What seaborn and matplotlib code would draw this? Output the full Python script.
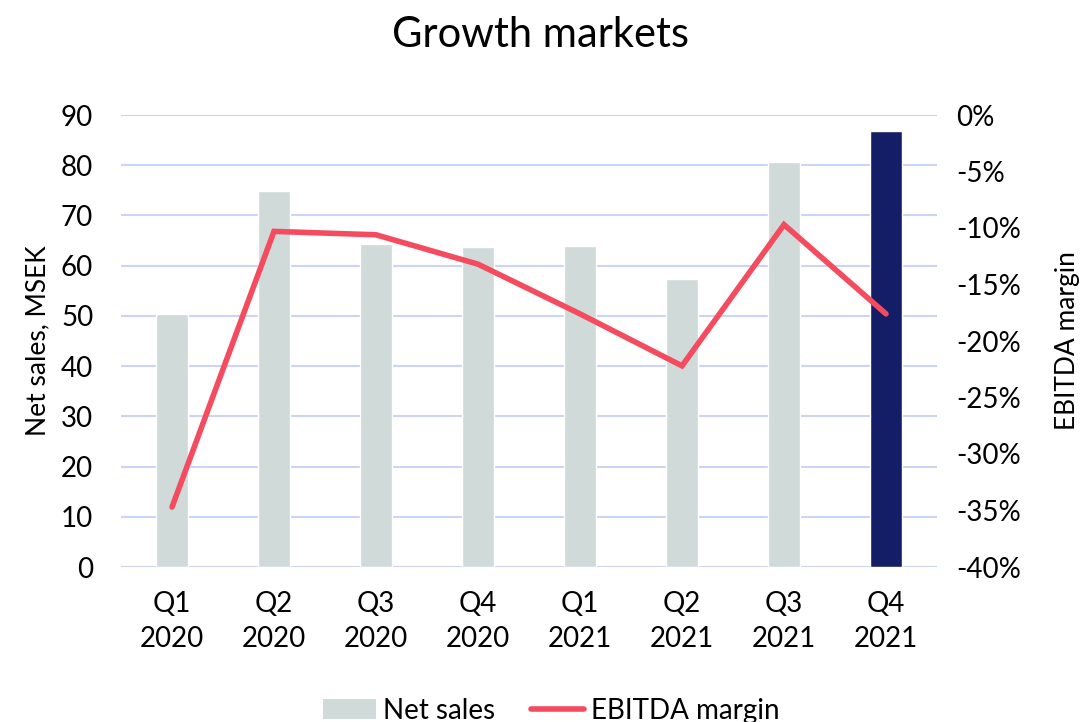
import numpy as np
import pandas as pd
import matplotlib
matplotlib.use("Agg")
import matplotlib.pyplot as plt
from matplotlib.patches import Patch
from matplotlib.lines import Line2D
from matplotlib.ticker import FuncFormatter
import seaborn as sns

# Quarterly figures for the growth markets segment
quarters = ["Q1\n2020", "Q2\n2020", "Q3\n2020", "Q4\n2020",
            "Q1\n2021", "Q2\n2021", "Q3\n2021", "Q4\n2021"]
net_sales = [50.3, 74.9, 64.4, 63.7, 63.9, 57.3, 80.6, 86.8]          # MSEK
ebitda_margin = [-34.7, -10.3, -10.6, -13.2, -17.6, -22.2, -9.7, -17.6]  # %

GREY = "#cfdad9"
NAVY = "#141e67"
RED = "#f44b5e"
GRID = "#cdd3f6"

sns.set_theme(style="white")
plt.rcParams["font.family"] = ["Lato", "DejaVu Sans"]
plt.rcParams["text.color"] = "black"
plt.rcParams["axes.labelcolor"] = "black"

df = pd.DataFrame({"quarter": quarters, "sales": net_sales, "margin": ebitda_margin})
bar_colors = [GREY] * (len(quarters) - 1) + [NAVY]

fig = plt.figure(figsize=(10.81, 7.22), dpi=100)
ax = fig.add_axes([121 / 1081, 1 - 567 / 722, 816 / 1081, 452 / 722])

sns.barplot(data=df, x="quarter", y="sales", hue="quarter", palette=bar_colors,
            legend=False, width=0.31, saturation=1, ax=ax, zorder=2)
ax.set_ylim(0, 90)
ax.set_yticks(np.arange(0, 91, 10))
ax.set_xlim(-0.5, len(quarters) - 0.5)
ax.grid(axis="y", color=GRID, linewidth=1.5, zorder=0)
ax.set_axisbelow(True)
for s in ax.spines.values():
    s.set_visible(False)
ax.tick_params(axis="both", length=0, labelsize=20, colors="black")
ax.tick_params(axis="x", pad=17)
ax.tick_params(axis="y", pad=20)
ax.set_xlabel("")
ax.set_ylabel("Net sales, MSEK", fontsize=19, labelpad=8)
for lbl in ax.get_xticklabels():
    lbl.set_linespacing(1.45)

ax2 = ax.twinx()
sns.lineplot(x=np.arange(len(quarters)), y=df["margin"], color=RED, linewidth=4,
             solid_capstyle="round", solid_joinstyle="miter", ax=ax2, zorder=3)
ax2.set_ylim(-40, 0)
ax2.set_yticks(np.arange(-40, 1, 5))
ax2.yaxis.set_major_formatter(FuncFormatter(lambda v, p: f"{v:.0f}%"))
for s in ax2.spines.values():
    s.set_visible(False)
ax2.tick_params(axis="y", length=0, labelsize=20, pad=14, colors="black")
ax2.set_ylabel("EBITDA margin", fontsize=19, labelpad=24)
ax2.set_xlim(-0.5, len(quarters) - 0.5)

fig.suptitle("Growth markets", fontsize=30, y=0.978)

handles = [Patch(facecolor=GREY, edgecolor="none", label="Net sales"),
           Line2D([0], [0], color=RED, linewidth=4, solid_capstyle="round", label="EBITDA margin")]
fig.legend(handles=handles, loc="lower center", bbox_to_anchor=(0.51, -0.037), ncol=2,
           frameon=False, fontsize=20, handlelength=1.9, columnspacing=1.3, handletextpad=0.25)

fig.savefig("out.png", dpi=100)
